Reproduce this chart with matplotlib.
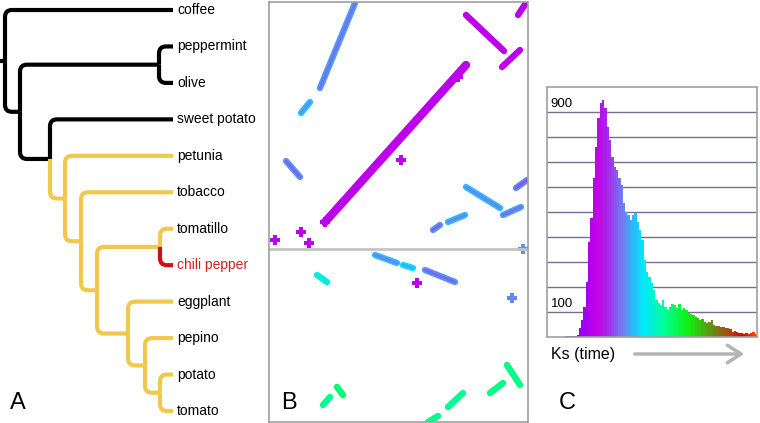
import numpy as np
import matplotlib
matplotlib.use("Agg")
import matplotlib.pyplot as plt
from matplotlib.path import Path
from matplotlib.patches import PathPatch, FancyArrowPatch
from matplotlib.colors import LinearSegmentedColormap

plt.rcParams['font.family'] = ['Liberation Sans', 'DejaVu Sans']

W, H = 760, 423

# --- A: tree -------------------------------------------------------------
leaves = ['coffee', 'peppermint', 'olive', 'sweet potato', 'petunia', 'tobacco',
          'tomatillo', 'chili pepper', 'eggplant', 'pepino', 'potato', 'tomato']
leaf_depth = 173
# internal nodes: name -> (depth, children, clade)
nodes = {
    'root': (5, ['coffee', 'n1'], 'out'),
    'n1': (20, ['n_po', 'n2'], 'out'),
    'n_po': (159, ['peppermint', 'olive'], 'out'),
    'n2': (50, ['sweet potato', 'sol'], 'out'),
    'sol': (65, ['petunia', 'n3'], 'sol'),
    'n3': (81, ['tobacco', 'n4'], 'sol'),
    'n4': (97, ['n_tc', 'n5'], 'sol'),
    'n_tc': (160, ['tomatillo', 'chili pepper'], 'sol'),
    'n5': (128, ['eggplant', 'n6'], 'sol'),
    'n6': (145, ['pepino', 'n7'], 'sol'),
    'n7': (160, ['potato', 'tomato'], 'sol'),
}
clade_of_leaf = {'coffee': 'out', 'peppermint': 'out', 'olive': 'out', 'sweet potato': 'out',
                 'chili pepper': 'chili'}
clade_colors = {'out': 'black', 'sol': '#f0c84e', 'chili': '#cc1111'}

# --- B: dot plot segments (x0, y0, x1, y1, Ks) ------------------------------
dot_segments = [
    (56, 220, 197, 63, 0.43),
    (197, 13, 235, 49, 0.43),
    (233, 65, 251, 48, 0.43),
    (249, 13, 257, 1, 0.43),
    (51, 86, 86, 1, 0.74),
    (32, 111, 41, 100, 0.80),
    (17, 159, 31, 175, 0.72),
    (197, 185, 231, 206, 0.78),
    (234, 213, 252, 205, 0.74),
    (247, 186, 258, 178, 0.70),
    (164, 228, 171, 223, 0.72),
    (179, 220, 196, 213, 0.78),
    (106, 253, 128, 261, 0.78),
    (134, 263, 144, 266, 0.84),
    (156, 268, 186, 280, 0.72),
    (48, 273, 58, 280, 0.95),
    (238, 363, 251, 383, 1.12),
    (221, 391, 234, 381, 1.12),
    (179, 405, 194, 391, 1.10),
    (159, 420, 169, 414, 1.12),
    (54, 403, 61, 395, 1.10),
    (68, 385, 74, 393, 1.15),
]
dot_points_x = [6, 32, 40, 132, 148, 254, 243, 56, 189]
dot_points_y = [238, 230, 241, 158, 281, 247, 296, 220, 75]
dot_points_ks = [0.43, 0.43, 0.43, 0.43, 0.43, 0.72, 0.70, 0.43, 0.43]
chrom_break = 247

# --- C: Ks histogram ---------------------------------------------------------
ks_counts = [1, 2, 2, 3, 3, 4, 5, 6,
             8, 36, 68, 121, 221, 381, 475, 636, 761, 875, 935, 948, 915, 841,
             788, 721, 681, 668, 635, 608, 535, 501, 488, 468, 488, 497, 461, 428,
             388, 308, 261, 241, 215, 188, 148, 135, 128, 148, 121, 108, 121,
             132, 128, 115, 132, 108, 115, 108, 95, 92, 88, 81, 75, 68, 71, 61,
             55, 61, 68, 48, 44, 44, 39, 39, 35, 35, 31, 21, 25, 19, 17, 15, 12,
             17, 12, 15, 21, 12]
ks_start, ks_end = 0.1, 1.9
grid_levels = [100, 200, 300, 400, 500, 600, 700, 800, 900]

ks_stops = [(0.0, '#7000ff'), (0.25, '#8400ff'), (0.45, '#c400e6'), (0.56, '#a030ea'),
            (0.66, '#7a70f0'), (0.86, '#00e6ff'), (1.05, '#00ffa0'), (1.28, '#10f010'),
            (1.47, '#5a9a10'), (1.66, '#b04010'), (1.78, '#e00000'), (1.9, '#ff5000')]
cmap = LinearSegmentedColormap.from_list('ks', [(k / 1.9, c) for k, c in ks_stops])


def ks_color(k):
    return cmap(k / 1.9)


fig = plt.figure(figsize=(W / 100, H / 100), dpi=100)


def px_axes(x0, y0, x1, y1):
    return fig.add_axes([x0 / W, 1 - y1 / H, (x1 - x0) / W, (y1 - y0) / H])


# tree
ax = px_axes(0, 0, 270, H)
ax.set_xlim(0, 270)
ax.set_ylim(H, 0)
ax.axis('off')

pos = {}
for i, name in enumerate(leaves):
    pos[name] = (leaf_depth, 10 + i * (411 - 10) / (len(leaves) - 1))


def place(n):
    if n in pos:
        return pos[n]
    d, kids, _ = nodes[n]
    ys = [place(k)[1] for k in kids]
    pos[n] = (d, sum(ys) / 2)
    return pos[n]


place('root')


def clade(n):
    if n in nodes:
        return nodes[n][2]
    return clade_of_leaf.get(n, 'sol')


r = 7
for n, (d, kids, _) in nodes.items():
    px, py = pos[n]
    for k in kids:
        cx, cy = pos[k]
        s = 1 if cy > py else -1
        verts = [(px, py), (px, cy - s * r), (px, cy), (px + r, cy), (cx, cy)]
        codes = [Path.MOVETO, Path.LINETO, Path.CURVE3, Path.CURVE3, Path.LINETO]
        ax.add_patch(PathPatch(Path(verts, codes), fill=False, lw=3.0,
                               edgecolor=clade_colors[clade(k)], capstyle='butt',
                               joinstyle='round'))
rx, ry = pos['root']
ax.plot([0, rx], [ry, ry], color='black', lw=3.0, solid_capstyle='butt')

for name in leaves:
    x, y = pos[name]
    col = '#cc2222' if name == 'chili pepper' else 'black'
    ax.text(x + 4, y, name, fontsize=10, color=col, va='center', ha='left')

# dot plot
axb = px_axes(269, 2, 528, 422)
axb.set_xlim(0, 259)
axb.set_ylim(420, 0)
axb.set_xticks([])
axb.set_yticks([])
for sp in axb.spines.values():
    sp.set_color('#a0a0a0')
    sp.set_linewidth(1.2)
axb.axhline(chrom_break, color='#c4c4c4', lw=2)
for i, (x0, y0, x1, y1, k) in enumerate(dot_segments):
    lw = 6.0 if i == 0 else 4.6
    axb.plot([x0, x1], [y0, y1], color=ks_color(k), lw=lw, solid_capstyle='round')
    if k > 0.6:
        axb.plot([x0, x1], [y0, y1], color=ks_color(k - 0.1), lw=1.8,
                 solid_capstyle='round', alpha=0.8)
axb.scatter(dot_points_x, dot_points_y, s=55, marker='P',
            c=[ks_color(k) for k in dot_points_ks], linewidths=0)

# histogram
axc = px_axes(547, 87, 757, 337)
edges = np.linspace(ks_start, ks_end, len(ks_counts) + 1)
width = edges[1] - edges[0]
for lvl in grid_levels:
    axc.axhline(lvl, color='#707092', lw=1, zorder=0)
axc.bar(edges[:-1], ks_counts, width=width, align='edge',
        color=[ks_color(e + width / 2) for e in edges[:-1]], linewidth=0, zorder=2)
axc.set_xlim(0, 1.9)
axc.set_ylim(0, 1000)
axc.set_xticks([])
axc.set_yticks([])
for sp in axc.spines.values():
    sp.set_color('#a0a0a0')
    sp.set_linewidth(1.2)
axc.text(0.035, 910, '900', fontsize=9.5, va='bottom', ha='left', zorder=3)
axc.text(0.035, 110, '100', fontsize=9.5, va='bottom', ha='left', zorder=3)

fig.text(551 / W, 1 - 354 / H, 'Ks (time)', fontsize=11.5, va='center', ha='left')
fig.add_artist(FancyArrowPatch(
    (632 / W, 1 - 354 / H), (747 / W, 1 - 354 / H), transform=fig.transFigure,
    arrowstyle='->,head_length=0.7,head_width=0.45', mutation_scale=14,
    color='#b4b4b4', lw=2.5))

for lab, x in [('A', 10), ('B', 281), ('C', 559)]:
    fig.text(x / W, 1 - 403 / H, lab, fontsize=17, va='center', ha='left')

fig.savefig('out.png', dpi=100)
